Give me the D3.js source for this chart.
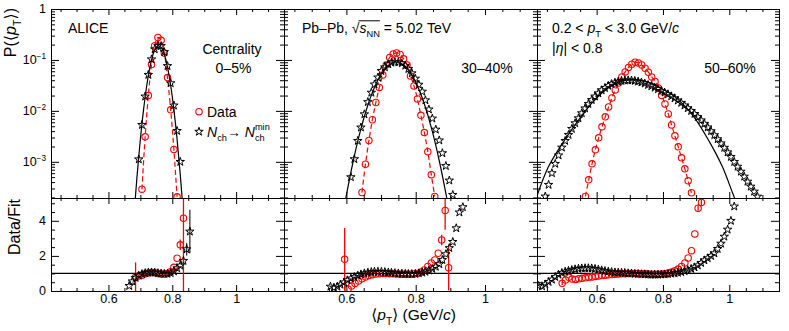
<!DOCTYPE html>
<html>
<head>
<meta charset="utf-8">
<script src="https://cdn.jsdelivr.net/npm/d3@7"></script>
<style>
  body { margin: 0; background: #fff; }
  svg text { font-family: "Liberation Sans", Arial, Helvetica, "DejaVu Sans", sans-serif; fill: #000; }
</style>
</head>
<body>
<svg id="chart"></svg>
<script>
// ---- values ----
const xDomain = [0.42, 1.15];
const xTicks = [0.6, 0.8, 1.0];
const xTickLabels = ['0.6', '0.8', '1'];
const yTopTicks = [1, 0.1, 0.01, 0.001];
const yTopExp = ['', '\u22121', '\u22122', '\u22123'];
const yBotTicks = [0, 2, 4];
const centralities = ['0\u20135%', '30\u201340%', '50\u201360%'];

// 0-5%
const aStarX = [0.665, 0.675, 0.685, 0.695, 0.705, 0.715, 0.725, 0.735, 0.745, 0.755, 0.765, 0.775, 0.785, 0.795, 0.805, 0.815, 0.825, 0.835, 0.845, 0.855];
const aStarY = [null, null, null, 1.12e-3, 5.3e-3, 0.0192, 0.051, 0.103, 0.162, 0.19, 0.188, 0.143, 0.076, 0.035, 0.0128, 4.05e-3, 1.0e-3, null, null, null];
const aStarR = [0.29, 0.55, 0.75, 0.88, 0.97, 1.02, 1.05, 1.06, 1.05, 1.02, 1.0, 0.98, 0.98, 1.02, 1.12, 1.3, 1.45, 1.72, 2.38, 3.39];
const aStarErr = [[0.845, 0.35], [0.855, 1.24]];
const aDataX = [0.685, 0.695, 0.705, 0.715, 0.725, 0.735, 0.745, 0.755, 0.765, 0.775, 0.785, 0.795, 0.805, 0.815, 0.825, 0.835];
const aDataY = [null, null, 2.9e-4, 3.1e-3, 0.020, 0.081, 0.19, 0.276, 0.243, 0.137, 0.045, 0.0105, 1.75e-3, 2.06e-4, null, null];
const aDataR = [0.78, 0.85, 0.9, 0.98, 1.03, 1.05, 1.04, 1.0, 0.97, 0.97, 1.0, 1.1, 1.35, 1.87, 2.63, 4.15];
const aDataErr = [[0.685, 0.85], [0.825, 0.3], [0.835, 4.2]];
const aFit = [[0.680, 8.7e-5], [0.690, 5.6e-4], [0.700, 2.77e-3], [0.710, 0.0106], [0.720, 0.0315], [0.730, 0.0724], [0.740, 0.129], [0.750, 0.177], [0.7575, 0.19],
  [0.765, 0.177], [0.775, 0.129], [0.785, 0.0724], [0.795, 0.0315], [0.805, 0.0106], [0.815, 2.77e-3], [0.825, 5.6e-4], [0.835, 8.7e-5]];

// 30-40%
const bStarX = [0.554, 0.564, 0.574, 0.583, 0.593, 0.603, 0.613, 0.623, 0.633, 0.642, 0.652, 0.662, 0.672, 0.681, 0.691, 0.701, 0.711, 0.721, 0.730, 0.740,
  0.750, 0.760, 0.770, 0.779, 0.789, 0.799, 0.809, 0.819, 0.828, 0.838, 0.848, 0.858, 0.868, 0.877, 0.887, 0.897, 0.907, 0.917, 0.926, 0.936];
const bStarY = [null, null, null, null, null, null, 5.0e-4, 1.13e-3, 2.58e-3, 4.73e-3, 8.6e-3, 0.0149, 0.0228, 0.0331, 0.0454, 0.0609, 0.0719, 0.0824, 0.0885, 0.0914,
  0.0901, 0.0862, 0.0773, 0.0666, 0.0548, 0.043, 0.0328, 0.0239, 0.0162, 0.0107, 7.1e-3, 4.3e-3, 2.64e-3, 1.48e-3, 8.3e-4, 4.3e-4, 2.25e-4, null, null, null];
const bStarR = [0.25, 0.19, 0.25, 0.36, 0.49, 0.61, 0.71, 0.8, 0.88, 0.95, 1.01, 1.05, 1.08, 1.1, 1.1, 1.09, 1.08, 1.06, 1.04, 1.02,
  1.0, 0.99, 0.98, 0.97, 0.97, 0.98, 1.01, 1.05, 1.1, 1.17, 1.26, 1.38, 1.53, 1.77, 2.1, 2.45, 2.8, 3.58, 4.48, 4.78];
const bStarErr = [];
const bDataX = [0.595, 0.605, 0.615, 0.625, 0.635, 0.645, 0.655, 0.665, 0.675, 0.685, 0.695, 0.705, 0.715, 0.725, 0.735, 0.745,
  0.755, 0.765, 0.775, 0.785, 0.795, 0.805, 0.815, 0.825, 0.835, 0.845, 0.855, 0.865, 0.875, 0.885, 0.895];
const bDataY = [null, null, null, null, null, 2.5e-4, 9.0e-4, 2.62e-3, 6.7e-3, 0.0146, 0.0289, 0.0508, 0.0798, 0.112, 0.131, 0.137,
  0.128, 0.105, 0.0798, 0.0486, 0.0309, 0.0172, 8.2e-3, 3.76e-3, 1.58e-3, 5.6e-4, 2.09e-4, null, null, null, null];
const bDataR = [1.81, 0.12, 0.28, 0.43, 0.57, 0.7, 0.8, 0.88, 0.93, 0.97, 0.99, 1.0, 1.0, 0.99, 0.98, 0.97,
  0.96, 0.95, 0.95, 0.95, 0.97, 1.0, 1.08, 1.2, 1.4, 1.6, 1.77, 2.15, 2.91, 4.59, 1.33];
const bDataErr = [[0.595, 1.78], [0.875, 0.3], [0.885, 1.1], [0.895, 1.3]];
const bFit = [[0.590, 9.3e-5], [0.600, 2.22e-4], [0.620, 1.05e-3], [0.640, 3.95e-3], [0.660, 0.0118], [0.680, 0.0278], [0.700, 0.052], [0.720, 0.0771], [0.744, 0.0912],
  [0.768, 0.0771], [0.788, 0.052], [0.808, 0.0278], [0.828, 0.0118], [0.848, 3.95e-3], [0.868, 1.05e-3], [0.888, 2.22e-4], [0.898, 9.3e-5]];

// 50-60%
const cStarX = [0.425, 0.435, 0.445, 0.455, 0.465, 0.475, 0.485, 0.495, 0.505, 0.515, 0.525, 0.535, 0.545, 0.555, 0.565, 0.575, 0.585, 0.595, 0.605, 0.615,
  0.625, 0.635, 0.645, 0.655, 0.665, 0.675, 0.685, 0.695, 0.705, 0.715, 0.725, 0.735, 0.745, 0.755, 0.765, 0.775, 0.785, 0.795, 0.805, 0.815,
  0.825, 0.835, 0.845, 0.855, 0.865, 0.875, 0.885, 0.895, 0.905, 0.915, 0.925, 0.935, 0.945, 0.955, 0.965, 0.975, 0.985, 0.995, 1.005, 1.015,
  1.025, 1.035, 1.045, 1.055, 1.065, 1.075, 1.085];
const cStarY = [null, null, 2.09e-4, 3.54e-4, 6.0e-4, 9.14e-4, 1.34e-3, 1.91e-3, 2.58e-3, 3.38e-3, 4.44e-3, 5.74e-3, 7.19e-3, 9.02e-3, 0.0112, 0.0137, 0.0164, 0.0192, 0.0222, 0.0255,
  0.0282, 0.0312, 0.0338, 0.0359, 0.0376, 0.0388, 0.0395, 0.0398, 0.0396, 0.0389, 0.0377, 0.0362, 0.0345, 0.0323, 0.0305, 0.0286, 0.0267, 0.0247, 0.0229, 0.0212,
  0.0194, 0.0177, 0.016, 0.0144, 0.0128, 0.0113, 0.01, 8.73e-3, 7.59e-3, 6.54e-3, 5.59e-3, 4.75e-3, 4.0e-3, 3.35e-3, 2.79e-3, 2.31e-3, 1.89e-3, 1.54e-3, 1.25e-3, 1.0e-3,
  8.05e-4, 6.43e-4, 5.13e-4, 4.09e-4, 3.27e-4, 2.61e-4, 2.08e-4];
const cStarR = [0.29, 0.27, 0.38, 0.52, 0.65, 0.8, 0.93, 1.03, 1.1, 1.15, 1.2, 1.24, 1.27, 1.29, 1.3, 1.3, 1.29, 1.26, 1.22, 1.18,
  1.14, 1.11, 1.08, 1.06, 1.05, 1.04, 1.03, 1.01, 1.0, 0.98, 0.97, 0.96, 0.95, 0.94, 0.93, 0.93, 0.93, 0.94, 0.95, 0.97,
  0.99, 1.01, 1.04, 1.08, 1.13, 1.19, 1.26, 1.35, 1.46, 1.6, 1.75, 1.87, 2.0, 2.15, 2.4, 2.7, 3.1, 3.5, 4.0, 4.82];
const cStarErr = [];
const cDataX = [0.496, 0.506, 0.516, 0.526, 0.536, 0.546, 0.556, 0.566, 0.576, 0.586, 0.596, 0.606, 0.616, 0.626, 0.636, 0.646, 0.656, 0.666, 0.676, 0.686,
  0.696, 0.706, 0.716, 0.726, 0.736, 0.746, 0.756, 0.766, 0.776, 0.786, 0.796, 0.806, 0.816, 0.826, 0.836, 0.846, 0.856, 0.866, 0.876, 0.886,
  0.896, 0.906, 0.916];
const cDataY = [null, null, null, null, null, null, null, 2.09e-4, 4.44e-4, 9.14e-4, 1.72e-3, 2.96e-3, 4.86e-3, 7.63e-3, 0.01198, 0.018, 0.0258, 0.0354, 0.0465, 0.0582,
  0.0713, 0.0824, 0.0901, 0.0873, 0.0798, 0.0687, 0.0574, 0.0465, 0.0379, 0.0282, 0.0201, 0.0137, 8.73e-3, 5.31e-3, 3.24e-3, 1.97e-3, 1.2e-3, 7.29e-4, 4.24e-4, 2.47e-4,
  null, null, null];
const cDataR = [0.44, 0.62, 0.78, 0.68, 0.66, 0.7, 0.72, 0.75, 0.78, 0.8, 0.83, 0.86, 0.88, 0.9, 0.92, 0.94, 0.96, 0.97, 0.98, 0.99,
  1.0, 1.0, 1.0, 1.0, 0.99, 0.98, 0.97, 0.96, 0.96, 0.96, 0.97, 0.99, 1.03, 1.08, 1.15, 1.25, 1.4, 1.6, 1.88, 2.3,
  3.25, 4.72, 5.05];
const cDataErr = [[0.496, 0.1], [0.906, 0.15], [0.916, 0.15]];
const cFit = [[0.415, 1.72e-4], [0.453, 7.63e-4], [0.492, 2.06e-3], [0.537, 5.56e-3], [0.582, 0.0134], [0.627, 0.0258], [0.672, 0.0379], [0.717, 0.041],
  [0.762, 0.0354], [0.792, 0.0282], [0.840, 0.018], [0.891, 7.98e-3], [0.942, 2.36e-3], [0.978, 8.35e-4], [1.011, 2.36e-4], [1.025, 1.37e-4]];

const panels = [
  { starX: aStarX, starY: aStarY, starR: aStarR, starErr: aStarErr, dataX: aDataX, dataY: aDataY, dataR: aDataR, dataErr: aDataErr, fit: aFit },
  { starX: bStarX, starY: bStarY, starR: bStarR, starErr: bStarErr, dataX: bDataX, dataY: bDataY, dataR: bDataR, dataErr: bDataErr, fit: bFit },
  { starX: cStarX, starY: cStarY, starR: cStarR, starErr: cStarErr, dataX: cDataX, dataY: cDataY, dataR: cDataR, dataErr: cDataErr, fit: cFit }
];

// ---- layout ----
const W = 789, H = 331;
const svg = d3.select('#chart').attr('width', W).attr('height', H);
const defs = svg.append('defs');
const topPad = [9, 198], botPad = [198, 291];
const padX = [[51, 284], [284, 537], [537, 779]];
const yTop = d3.scaleLog().domain([1.95e-4, 1]).range([topPad[1], topPad[0]]);
const yBot = d3.scaleLinear().domain([0, 5.3]).range([botPad[1], botPad[0]]);

const logMinor = [];
for (let e = -4; e < 0; e++) for (let k = 2; k <= 9; k++) { const v = k * Math.pow(10, e); if (v > 1.95e-4) logMinor.push(v); }
const xMinor = d3.range(0.45, 1.151, 0.05).filter(v => !xTicks.some(t => Math.abs(t - v) < 1e-6));
const yBotMinor = d3.range(0, 5.31, 0.5).filter(v => !yBotTicks.includes(v));

const RED = '#ff0000';
const star = d3.symbol().type(d3.symbolStar).size(22);

function tickAxis(axis, scale, values, size, tx, ty) {
  svg.append('g')
    .attr('transform', `translate(${tx},${ty})`)
    .call(axis(scale).tickValues(values).tickSize(size).tickFormat(''))
    .call(g => g.select('.domain').remove());
}

// text with ROOT-like sub/superscripts; spaces kept as no-break spaces
function rich(parent, x, y, parts, size, anchor) {
  const g = parent.append('g');
  let cx = 0;
  const pos = [];
  const nb = s => s.replace(/ /g, '\u00a0');
  parts.forEach(p => {
    if (typeof p === 'string') p = { t: p };
    const start = cx;
    if (p.t) {
      const el = g.append('text').attr('x', cx).attr('font-size', size)
        .attr('font-style', p.i ? 'italic' : null).text(nb(p.t));
      cx += el.node().getComputedTextLength();
    }
    let w = 0;
    if (p.sub) {
      const el = g.append('text').attr('x', cx).attr('y', size * 0.32).attr('font-size', size * 0.66).text(p.sub);
      w = Math.max(w, el.node().getComputedTextLength());
    }
    if (p.sup) {
      const el = g.append('text').attr('x', cx).attr('y', -size * 0.45).attr('font-size', size * 0.66).text(p.sup);
      w = Math.max(w, el.node().getComputedTextLength());
    }
    cx += w;
    pos.push([start, cx]);
  });
  const shift = anchor === 'end' ? -cx : anchor === 'middle' ? -cx / 2 : 0;
  g.attr('transform', `translate(${x + shift},${y})`);
  return pos.map(d => [x + d[0] + shift, x + d[1] + shift]);
}

panels.forEach((p, i) => {
  const [x0, x1] = padX[i];
  const x = d3.scaleLinear().domain(xDomain).range([x0, x1]);

  defs.append('clipPath').attr('id', 'ct' + i).append('rect')
    .attr('x', x0).attr('y', topPad[0]).attr('width', x1 - x0).attr('height', topPad[1] - topPad[0]);
  defs.append('clipPath').attr('id', 'cb' + i).append('rect')
    .attr('x', x0).attr('y', botPad[0]).attr('width', x1 - x0).attr('height', botPad[1] - botPad[0]);

  // top pad
  const gT = svg.append('g').attr('clip-path', `url(#ct${i})`);
  const line = d3.line().x(d => x(d[0])).y(d => yTop(d[1])).curve(d3.curveCatmullRom.alpha(0.5));
  const dataPts = p.dataX.map((v, j) => [v, p.dataY[j]]).filter(d => d[1] != null);
  const starPts = p.starX.map((v, j) => [v, p.starY[j]]).filter(d => d[1] != null);

  gT.append('path').datum(dataPts).attr('d', line)
    .attr('fill', 'none').attr('stroke', RED).attr('stroke-width', 1.2).attr('stroke-dasharray', '5,3');
  gT.selectAll('.dc').data(dataPts).join('circle')
    .attr('cx', d => x(d[0])).attr('cy', d => yTop(d[1])).attr('r', 3.2)
    .attr('fill', 'none').attr('stroke', RED).attr('stroke-width', 1.1);
  gT.append('path').datum(p.fit).attr('d', line)
    .attr('fill', 'none').attr('stroke', '#000').attr('stroke-width', 1.2);
  gT.selectAll('.st').data(starPts).join('path')
    .attr('transform', d => `translate(${x(d[0])},${yTop(d[1])})`).attr('d', star)
    .attr('fill', 'none').attr('stroke', '#000').attr('stroke-width', 1);

  // ratio pad
  const gB = svg.append('g').attr('clip-path', `url(#cb${i})`);
  gB.append('line').attr('x1', x0).attr('x2', x1).attr('y1', yBot(1)).attr('y2', yBot(1))
    .attr('stroke', '#000').attr('stroke-width', 1.2);
  const rData = p.dataX.map((v, j) => [v, p.dataR[j]]).filter(d => d[1] != null);
  const rStar = p.starX.map((v, j) => [v, p.starR[j]]).filter(d => d[1] != null);
  const errOf = (list, pts, col) => {
    list.forEach(([ex, e]) => {
      const pt = pts.find(d => Math.abs(d[0] - ex) < 1e-6);
      if (!pt) return;
      gB.append('line').attr('x1', x(ex)).attr('x2', x(ex))
        .attr('y1', yBot(pt[1] - e)).attr('y2', yBot(pt[1] + e))
        .attr('stroke', col).attr('stroke-width', 1.3);
    });
  };
  errOf(p.dataErr, rData, RED);
  errOf(p.starErr, rStar, '#333');
  gB.selectAll('.dc').data(rData).join('circle')
    .attr('cx', d => x(d[0])).attr('cy', d => yBot(d[1])).attr('r', 3.2)
    .attr('fill', 'none').attr('stroke', RED).attr('stroke-width', 1.1);
  gB.selectAll('.st').data(rStar).join('path')
    .attr('transform', d => `translate(${x(d[0])},${yBot(d[1])})`).attr('d', star)
    .attr('fill', 'none').attr('stroke', '#000').attr('stroke-width', 1);

  // ticks, top pad
  tickAxis(d3.axisBottom, x, xTicks, -6, 0, topPad[1]);
  tickAxis(d3.axisBottom, x, xMinor, -3, 0, topPad[1]);
  tickAxis(d3.axisTop, x, xTicks, -6, 0, topPad[0]);
  tickAxis(d3.axisTop, x, xMinor, -3, 0, topPad[0]);
  tickAxis(d3.axisLeft, yTop, yTopTicks, -8, x0, 0);
  tickAxis(d3.axisLeft, yTop, logMinor, -4, x0, 0);
  tickAxis(d3.axisRight, yTop, yTopTicks, -8, x1, 0);
  tickAxis(d3.axisRight, yTop, logMinor, -4, x1, 0);
  // ticks, ratio pad
  svg.append('g').attr('transform', `translate(0,${botPad[1]})`)
    .call(d3.axisBottom(x).tickValues(xTicks).tickSize(-6).tickPadding(3).tickFormat((d, j) => xTickLabels[j]))
    .call(g => g.select('.domain').remove())
    .call(g => g.selectAll('text').attr('font-size', 12.5).attr('fill', '#000'));
  tickAxis(d3.axisBottom, x, xMinor, -3, 0, botPad[1]);
  tickAxis(d3.axisTop, x, xTicks, -6, 0, botPad[0]);
  tickAxis(d3.axisTop, x, xMinor, -3, 0, botPad[0]);
  tickAxis(d3.axisLeft, yBot, yBotTicks, -8, x0, 0);
  tickAxis(d3.axisLeft, yBot, yBotMinor, -4, x0, 0);
  tickAxis(d3.axisRight, yBot, yBotTicks, -8, x1, 0);
  tickAxis(d3.axisRight, yBot, yBotMinor, -4, x1, 0);

  // frames
  svg.append('rect').attr('x', x0 + 0.5).attr('y', topPad[0] + 0.5)
    .attr('width', x1 - x0).attr('height', topPad[1] - topPad[0])
    .attr('fill', 'none').attr('stroke', '#000').attr('stroke-width', 1);
  svg.append('rect').attr('x', x0 + 0.5).attr('y', botPad[0] + 0.5)
    .attr('width', x1 - x0).attr('height', botPad[1] - botPad[0])
    .attr('fill', 'none').attr('stroke', '#000').attr('stroke-width', 1);
});

// y tick labels (left pad only)
yTopTicks.forEach((v, j) => {
  const yy = yTop(v) + 4.4;
  if (!yTopExp[j]) rich(svg, 46, yy, ['1'], 12.5, 'end');
  else rich(svg, 46, yy, [{ t: '10', sup: yTopExp[j] }], 12.5, 'end');
});
yBotTicks.forEach(v => rich(svg, 46, yBot(v) + 4.4, [String(v)], 12.5, 'end'));

// axis titles
const ttl1 = svg.append('g').attr('transform', 'translate(16,8) rotate(-90)');
rich(ttl1, 0, 0, ['P(\u27e8', { t: 'p', i: 1, sub: 'T' }, '\u27e9)'], 16, 'end');
const ttl2 = svg.append('g').attr('transform', 'translate(20,199) rotate(-90)');
rich(ttl2, 0, 0, ['Data/Fit'], 16, 'end');
rich(svg, 456, 320, ['\u27e8', { t: 'p', i: 1, sub: 'T' }, '\u27e9 (GeV/', { t: 'c', i: 1 }, ')'], 15.5, 'end');

// labels inside pads
rich(svg, 68, 33, ['ALICE'], 14, 'start');
rich(svg, 232, 54, ['Centrality'], 14, 'middle');
const sq = rich(svg, 302, 33, ['Pb\u2013Pb, ', '\u221a', { t: 's', i: 1, sub: 'NN' }, ' = 5.02 TeV'], 14, 'start');
svg.append('line').attr('x1', sq[1][1] - 1).attr('x2', sq[2][1]).attr('y1', 33 - 12.2).attr('y2', 33 - 12.2)
  .attr('stroke', '#000').attr('stroke-width', 1);
rich(svg, 552, 33, ['0.2 < ', { t: 'p', i: 1, sub: 'T' }, ' < 3.0 GeV/', { t: 'c', i: 1 }], 14, 'start');
rich(svg, 552, 53, ['|', { t: '\u03b7', i: 1 }, '| < 0.8'], 14, 'start');
[233.5, 487, 730].forEach((cx, i) => rich(svg, cx, 73, [centralities[i]], 14, 'middle'));

// legend
svg.append('circle').attr('cx', 199).attr('cy', 111.7).attr('r', 3.2)
  .attr('fill', 'none').attr('stroke', RED).attr('stroke-width', 1.1);
rich(svg, 207, 116.5, ['Data'], 14, 'start');
svg.append('path').attr('transform', 'translate(199,131.7)').attr('d', star)
  .attr('fill', 'none').attr('stroke', '#000').attr('stroke-width', 1);
rich(svg, 207, 136.5, [{ t: 'N', i: 1, sub: 'ch' }, '\u2192 ', { t: 'N', i: 1, sub: 'ch', sup: 'min' }], 14, 'start');
</script>
</body>
</html>
